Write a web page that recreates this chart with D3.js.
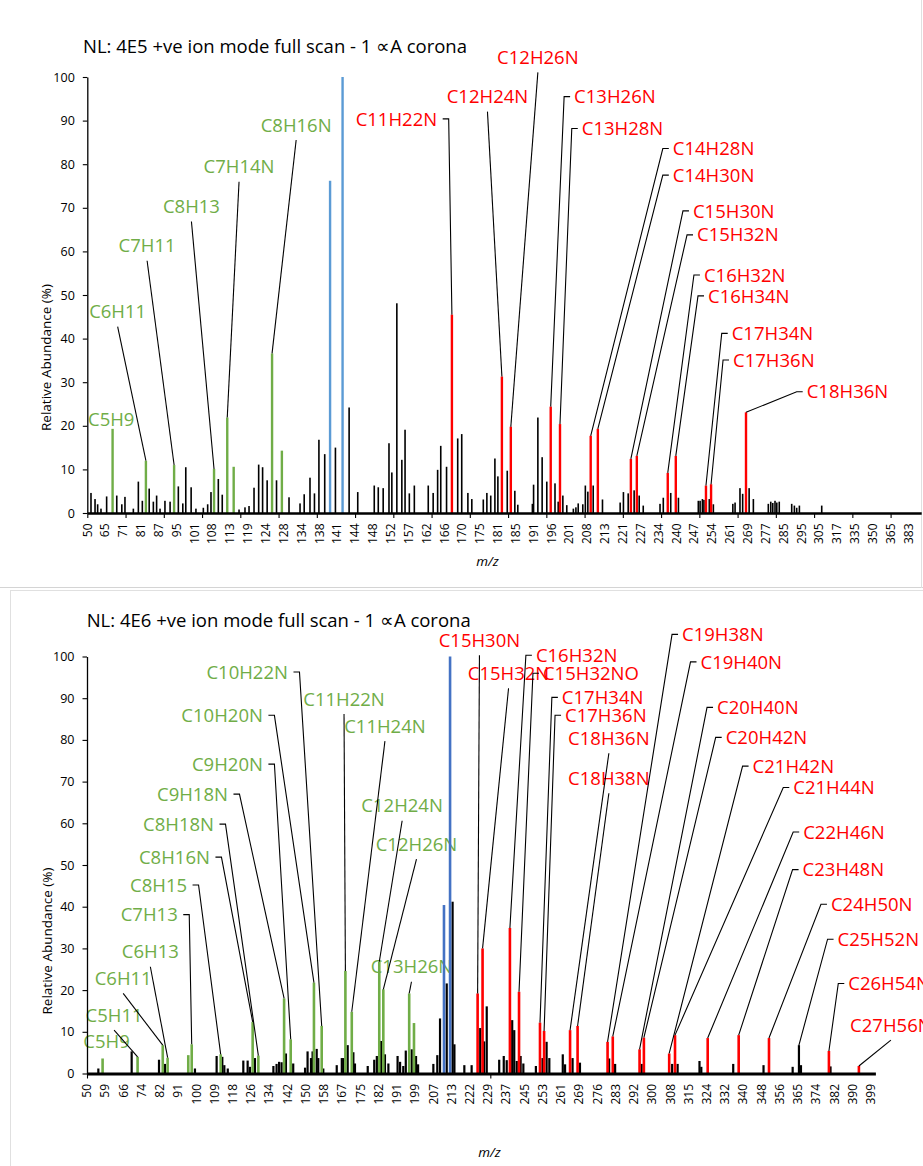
<!DOCTYPE html>
<html>
<head>
<meta charset="utf-8">
<script src="https://cdn.jsdelivr.net/npm/d3@7"></script>
<style>
  body { margin: 0; background: #fff; }
  svg { display: block; font-family: "Open Sans", sans-serif; }
</style>
</head>
<body>
<div id="chart"></div>
<script>
// ---------- top spectrum (NL 4E5) ----------
const topTitle = "NL: 4E5 +ve ion mode full scan - 1 \u221DA corona";
const topTicks = [50,65,71,81,87,95,101,108,113,119,124,128,134,138,141,144,148,152,157,162,166,170,175,181,185,191,196,201,208,213,221,227,234,240,247,254,261,269,277,285,295,305,317,335,350,365,383];

const topBlackMz = [53.1,56.5,58.7,61.5,65.5,68.9,70.6,72.1,76.8,79.6,81.5,83.8,85.2,86.3,87.6,89.8,92.1,95.6,97.1,98.1,99.9,101.6,104.5,106.2,107.5,109.7,110.8,116.0,118.0,119.3,120.7,122.0,123.1,124.3,126.4,129.8,133.5,134.6,135.9,136.9,137.9,138.9,140.7,143.0,144.6,148.3,149.2,150.3,151.6,152.3,153.7,155.1,156.0,157.2,158.6,162.4,163.5,164.5,165.2,166.5,169.0,169.9,171.6,172.7,176.1,177.3,178.6,180.0,181.0,183.1,184.8,185.7,190.6,191.0,192.2,193.4,194.7,197.0,197.9,199.2,200.3,202.6,203.6,204.5,206.3,207.3,208.2,209.7,212.3,219.8,221.2,222.8,224.8,226.5,228.0,234.5,235.6,238.1,240.8,248.6,249.3,250.2,250.8,252.9,254.5,262.3,263.3,265.5,266.7,269.6,271.5,278.2,279.3,280.2,281.2,282.0,283.1,289.6,291.1,292.4,293.9,306.7];
const topBlackAb = [4.6,3.2,2.0,1.0,3.8,4.0,2.0,3.7,1.0,7.2,2.8,5.6,2.6,4.0,1.0,2.8,2.6,6.1,2.2,10.5,5.9,1.0,1.2,2.0,4.8,7.8,4.2,0.8,1.3,1.6,5.8,11.1,10.5,7.5,7.5,3.6,2.2,4.3,8.1,4.5,16.8,13.5,15.0,24.2,4.8,6.3,5.9,5.7,16.0,9.3,48.1,12.2,19.1,4.5,6.3,6.3,4.6,9.9,15.4,10.6,17.1,18.1,4.6,3.2,3.1,4.6,4.0,12.5,8.4,9.7,5.1,1.9,2.1,6.5,21.9,12.8,7.2,6.8,2.6,4.0,1.8,1.0,1.3,2.2,2.0,6.3,4.9,6.3,3.1,2.4,4.8,4.5,5.2,4.0,1.7,2.1,3.5,4.6,3.5,2.8,2.8,3.2,3.0,3.2,2.0,2.1,2.4,5.7,4.4,5.7,3.2,2.1,2.6,2.3,2.8,2.4,2.6,2.1,1.7,1.2,1.7,1.7];
const topGreenMz = [67.5,82.7,93.9,108.5,112.2,114.2,125.4,127.6];
const topGreenAb = [19.3,12.0,11.0,10.1,21.9,10.6,36.6,14.3];
const topRedMz = [167.7,181.9,183.9,195.8,198.4,209.0,211.0,223.7,225.7,237.1,239.8,251.6,253.6,268.2];
const topRedAb = [45.5,31.3,19.8,24.4,20.4,17.7,19.3,12.4,13.1,9.2,13.1,6.3,6.6,23.1];
const topBlueMz = [139.8,141.9];
const topBlueAb = [76.2,100];

// peak labels: text, peak they point at, label anchor (m/z, abundance), leader side
const topLabelText = ["C5H9","C6H11","C7H11","C8H13","C7H14N","C8H16N","C11H22N","C12H24N","C12H26N","C13H26N","C13H28N","C14H28N","C14H30N","C15H30N","C15H32N","C16H32N","C16H34N","C17H34N","C17H36N","C18H36N"];
const topLabelPeak = [67.5,82.7,93.9,108.5,112.2,125.4,167.7,181.9,183.9,195.8,198.4,209.0,211.0,223.7,225.7,237.1,239.8,251.6,253.6,268.2];
const topLabelMz = [50.6,69.2,83.1,100.0,116.0,132.2,164.4,177.5,192.2,202.9,205.9,238.8,238.8,246.5,248.1,250.8,252.4,261.8,262.4,298.0];
const topLabelAb = [21.5,46.2,61.3,70.3,79.4,89.0,90.4,95.5,104.5,95.5,88.2,83.6,77.5,69.3,63.8,54.6,49.8,41.2,35.1,27.8];
const topLabelSide = ["N","B","B","B","B","B","R","B","B","L","L","L","L","L","L","L","L","L","L","L"];

// ---------- bottom spectrum (NL 4E6) ----------
const bottomTitle = "NL: 4E6 +ve ion mode full scan - 1 \u221DA corona";
const bottomTicks = [50,59,66,74,82,91,100,109,118,126,134,142,150,158,167,175,182,191,199,207,213,222,229,237,245,253,261,269,276,283,292,300,308,315,324,332,340,348,356,365,374,382,390,399];

const bottomBlackMz = [55.6,69.6,81.6,84.5,99.3,110.0,112.8,113.8,115.5,122.6,124.5,125.5,127.7,135.8,137.2,138.3,139.4,141.3,144.5,149.7,150.8,152.3,153.0,154.8,155.5,157.7,164.3,166.8,167.5,169.4,171.9,172.6,177.8,180.3,181.3,183.1,185.1,186.8,191.3,192.4,193.8,194.9,197.5,199.4,200.3,207.0,208.3,209.2,211.4,213.5,214.4,219.3,222.7,226.0,227.5,228.5,233.9,235.9,237.2,239.6,240.5,241.6,243.3,244.5,250.0,252.9,254.7,255.9,261.8,262.8,266.1,269.3,280.5,282.8,295.4,308.7,310.8,320.4,321.3,335.6,348.9,362.4,365.5,366.5,380.3];
const bottomBlackAb = [1.2,5.3,3.3,2.3,1.2,4.2,4.0,2.0,1.2,3.1,3.1,1.6,3.7,1.8,2.3,2.8,2.7,4.8,2.4,1.4,5.3,3.7,5.3,5.9,3.7,1.2,2.0,3.7,3.7,6.8,5.1,2.4,1.8,3.3,4.2,7.8,4.6,2.4,4.2,2.8,1.8,5.5,5.8,4.2,2.2,2.3,4.4,13.2,21.6,41.2,7.0,2.0,2.0,10.9,7.7,16.1,3.3,4.2,3.2,12.8,10.4,3.0,4.2,2.4,1.8,3.7,7.6,3.7,4.6,2.2,3.7,2.6,3.6,2.3,2.3,2.3,2.3,3.0,1.6,2.3,2.0,1.6,6.8,2.0,1.7];
const bottomGreenMz = [57.7,72.2,83.4,85.8,96.0,97.7,112.0,126.7,129.2,140.5,143.4,153.6,157.0,168.4,171.2,182.3,184.3,196.4,198.5];
const bottomGreenAb = [3.6,4.0,6.8,3.8,4.4,7.0,4.6,12.4,4.3,18.0,8.2,21.8,11.4,24.6,14.8,26.8,20.2,19.2,12.1];
const bottomRedMz = [225.0,226.9,238.6,242.6,251.8,253.6,265.0,268.3,279.9,281.9,294.5,296.4,307.5,309.8,324.4,338.0,351.3,379.6,393.1];
const bottomRedAb = [19.2,30.0,34.9,19.6,12.2,10.2,10.4,11.4,7.6,8.9,5.8,8.6,4.8,9.2,8.5,9.2,8.5,5.4,1.8];
const bottomBlueMz = [210.5,212.5];
const bottomBlueAb = [40.4,100];

const bottomLabelText = ["C5H9","C5H11","C6H11","C6H13","C7H13","C8H15","C8H16N","C8H18N","C9H18N","C9H20N","C10H20N","C10H22N","C11H22N","C11H24N","C12H24N","C12H26N","C13H26N","C15H30N","C15H32N","C16H32N","C15H32NO","C17H34N","C17H36N","C18H36N","C18H38N","C19H38N","C19H40N","C20H40N","C20H42N","C21H42N","C21H44N","C22H46N","C23H48N","C24H50N","C25H52N","C26H54N","C27H56N"];
const bottomLabelPeak = [57.7,72.2,83.4,85.8,97.7,112.0,126.7,129.2,140.5,143.4,153.6,157.0,168.4,171.2,182.3,184.3,196.4,225.0,226.9,238.6,242.6,251.8,253.6,265.0,268.3,279.9,281.9,294.5,296.4,307.5,309.8,324.4,338.0,351.3,365.5,379.6,393.1];
const bottomLabelMz = [48.2,62.4,65.9,77.8,90.8,95.4,106.7,108.7,115.6,131.2,131.2,142.2,167.8,185.1,193.3,199.6,197.4,225.7,238.0,250.0,253.1,261.4,262.8,280.4,280.4,312.5,320.9,328.5,332.3,344.1,362.7,367.6,367.3,380.5,383.4,388.1,408.9];
const bottomLabelAb = [7.6,14.0,22.8,29.2,38.1,45.2,51.9,59.8,67.0,74.2,85.9,96.3,89.8,83.3,64.2,55.0,25.6,103.9,96.0,100.3,96.0,90.2,85.9,80.4,70.8,105.3,98.7,87.8,80.6,73.7,68.6,57.9,48.9,40.6,32.2,21.6,11.6];
const bottomLabelSide = ["N","B","B","B","R","R","R","R","R","R","R","R","B","B","B","B","B","B","B","L","L","L","L","B","B","L","L","L","L","L","L","L","L","L","L","L","B"];

// ---------- drawing ----------
const GREEN = "#70ad47", RED = "#ff0000";

const svg = d3.select("#chart").append("svg")
  .attr("width", 923)
  .attr("height", 1166);

// light frames of the two screenshots
svg.append("line").attr("x1", 0).attr("x2", 923).attr("y1", 587.5).attr("y2", 587.5).attr("stroke", "#d4d4d4");
svg.append("line").attr("x1", 921.5).attr("x2", 921.5).attr("y1", 0).attr("y2", 588).attr("stroke", "#e0e0e0");
svg.append("line").attr("x1", 10).attr("x2", 923).attr("y1", 590.5).attr("y2", 590.5).attr("stroke", "#e0e0e0");
svg.append("line").attr("x1", 10.5).attr("x2", 10.5).attr("y1", 590).attr("y2", 1166).attr("stroke", "#e0e0e0");

function drawPanel(d, L) {
  const g = svg.append("g");

  // category axis: labels every L.labelEvery categories
  const idx = d3.scaleLinear()
    .domain(d.ticks)
    .range(d.ticks.map((t, i) => i * L.labelEvery));
  const x = d3.scaleLinear().domain([0, L.nCat]).range([L.left, L.right]);
  const mx = m => x(idx(m));
  const y = d3.scaleLinear().domain([0, 100]).range([L.bottom, L.top]);

  const allPeaks = new Map(
    [].concat(d3.zip(d.blackMz, d.blackAb), d3.zip(d.greenMz, d.greenAb),
              d3.zip(d.redMz, d.redAb), d3.zip(d.blueMz, d.blueAb)));
  const greenSet = new Set(d.greenMz);

  // title
  g.append("text")
    .attr("x", L.titleX)
    .attr("y", L.titleY)
    .attr("font-size", 18.5)
    .attr("fill", "#000")
    .text(d.title);

  // peak labels (text under the bars, like the original)
  const labs = d.labelText.map((t, i) => ({
    text: t, peak: d.labelPeak[i], mz: d.labelMz[i], ab: d.labelAb[i], side: d.labelSide[i]
  }));

  g.append("g").selectAll("text")
    .data(labs)
    .join("text")
    .attr("x", l => mx(l.mz))
    .attr("y", l => y(l.ab))
    .attr("dy", "0.36em")
    .attr("font-size", 18.5)
    .attr("text-anchor", l => l.side === "R" ? "end" : (l.side === "B" ? "middle" : "start"))
    .attr("fill", l => greenSet.has(l.peak) ? GREEN : RED)
    .text(l => l.text);

  // bars
  const series = [
    {mz: d.blackMz, ab: d.blackAb, color: "#000", w: L.blackW},
    {mz: d.greenMz, ab: d.greenAb, color: GREEN, w: L.colorW},
    {mz: d.redMz, ab: d.redAb, color: RED, w: L.colorW},
    {mz: d.blueMz, ab: d.blueAb, color: L.blue, w: L.colorW}
  ];
  series.forEach(s => {
    g.append("g").selectAll("rect")
      .data(d3.zip(s.mz, s.ab))
      .join("rect")
      .attr("x", v => mx(v[0]) - s.w / 2)
      .attr("width", s.w)
      .attr("y", v => y(v[1]))
      .attr("height", v => y(0) - y(v[1]))
      .attr("fill", s.color);
  });

  // leader lines
  g.append("g").selectAll("path")
    .data(labs.filter(l => l.side !== "N"))
    .join("path")
    .attr("fill", "none")
    .attr("stroke", "#000")
    .attr("stroke-width", 1.1)
    .attr("d", l => {
      const X = mx(l.mz), Y = y(l.ab);
      const bx = mx(l.peak), by = y(allPeaks.get(l.peak));
      if (l.side === "L") return `M${X - 4},${Y} L${X - 10},${Y} L${bx},${by}`;
      if (l.side === "R") return `M${X + 5.5},${Y} L${X + 11.5},${Y} L${bx},${by}`;
      return `M${X},${Y + 15} L${bx},${by}`;
    });

  // y axis
  const ya = g.append("g")
    .attr("transform", `translate(${L.left},0)`)
    .call(d3.axisLeft(y).tickValues(d3.range(0, 101, 10)).tickSize(4.5).tickSizeOuter(0).tickPadding(8));
  ya.select(".domain").attr("stroke-width", 1.3);
  ya.selectAll(".tick line").attr("stroke-width", 1.1);
  ya.selectAll("text")
    .attr("font-family", "Open Sans, sans-serif")
    .attr("font-size", 12.5)
    .attr("fill", "#000");

  g.append("text")
    .attr("transform", `translate(${L.yTitleX},${L.yTitleY}) rotate(-90)`)
    .attr("text-anchor", "middle")
    .attr("dy", "0.32em")
    .attr("font-size", 13.5)
    .attr("fill", "#000")
    .text("Relative Abundance (%)");

  // x axis
  const xa = g.append("g")
    .attr("transform", `translate(0,${L.bottom})`)
    .call(d3.axisBottom(x).tickValues(d3.range(0, L.nCat + 1, L.tickEvery)).tickSize(5).tickSizeOuter(0).tickFormat(""));
  xa.select(".domain").attr("stroke-width", L.axisW);
  xa.selectAll(".tick line").attr("stroke-width", 1.1);

  g.append("g").selectAll("text")
    .data(d.ticks)
    .join("text")
    .attr("transform", (t, i) => `translate(${x(i * L.labelEvery)},${L.bottom + 10.5}) rotate(-90)`)
    .attr("text-anchor", "end")
    .attr("dy", "0.35em")
    .attr("font-size", 12)
    .attr("fill", "#000")
    .text(t => t);

  g.append("text")
    .attr("x", L.mzX)
    .attr("y", L.mzY)
    .attr("text-anchor", "middle")
    .attr("font-size", 13.5)
    .attr("font-style", "italic")
    .attr("fill", "#000")
    .text("m/z");
}

drawPanel({
  title: topTitle, ticks: topTicks,
  blackMz: topBlackMz, blackAb: topBlackAb,
  greenMz: topGreenMz, greenAb: topGreenAb,
  redMz: topRedMz, redAb: topRedAb,
  blueMz: topBlueMz, blueAb: topBlueAb,
  labelText: topLabelText, labelPeak: topLabelPeak,
  labelMz: topLabelMz, labelAb: topLabelAb, labelSide: topLabelSide
}, {
  left: 87.3, right: 921.2, top: 77, bottom: 513,
  nCat: 327, labelEvery: 7, tickEvery: 15,
  titleX: 83, titleY: 53.3,
  yTitleX: 47, yTitleY: 357.5,
  mzX: 487.5, mzY: 566,
  blackW: 1.6, colorW: 2.4, axisW: 2.5, blue: "#5b9bd5"
});

drawPanel({
  title: bottomTitle, ticks: bottomTicks,
  blackMz: bottomBlackMz, blackAb: bottomBlackAb,
  greenMz: bottomGreenMz, greenAb: bottomGreenAb,
  redMz: bottomRedMz, redAb: bottomRedAb,
  blueMz: bottomBlueMz, blueAb: bottomBlueAb,
  labelText: bottomLabelText, labelPeak: bottomLabelPeak,
  labelMz: bottomLabelMz, labelAb: bottomLabelAb, labelSide: bottomLabelSide
}, {
  left: 87, right: 875.4, top: 656.5, bottom: 1073.5,
  nCat: 346, labelEvery: 8, tickEvery: 177,
  titleX: 86.7, titleY: 626.7,
  yTitleX: 47.5, yTitleY: 941,
  mzX: 489.5, mzY: 1157,
  blackW: 2.2, colorW: 2.6, axisW: 3, blue: "#4472c4"
});
</script>
</body>
</html>
